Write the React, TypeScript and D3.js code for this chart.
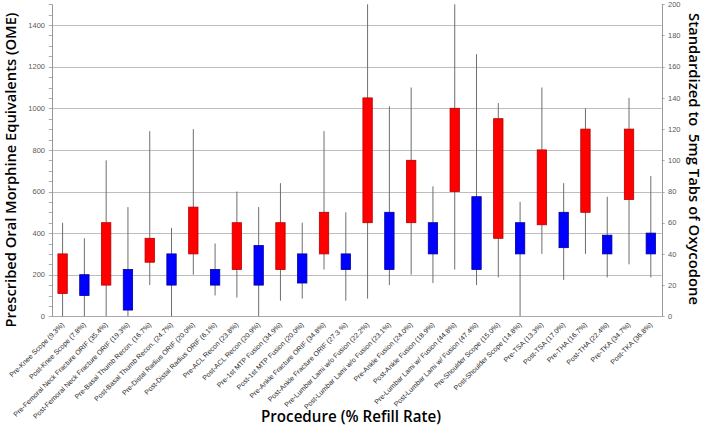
import React from "react";
import * as d3 from "d3";

const categories = [
  "Pre-Knee Scope (9.3%)",
  "Post-Knee Scope (7.8%)",
  "Pre-Femoral Neck Fracture ORIF (35.4%)",
  "Post-Femoral Neck Fracture ORIF (19.3%)",
  "Pre-Basal Thumb Recon. (16.7%)",
  "Post-Basal Thumb Recon. (24.7%)",
  "Pre-Distal Radius ORIF (20.0%)",
  "Post-Distal Radius ORIF (6.1%)",
  "Pre-ACL Recon (23.8%)",
  "Post-ACL Recon (20.9%)",
  "Pre-1st MTP Fusion (34.9%)",
  "Post-1st MTP Fusion (20.0%)",
  "Pre-Ankle Fracture ORIF (34.8%)",
  "Post-Ankle Fracture ORIF (27.3 %)",
  "Pre-Lumbar Lami w/o Fusion (22.2%)",
  "Post-Lumbar Lami w/o Fusion (23.1%)",
  "Pre-Ankle Fusion (24.0%)",
  "Post-Ankle Fusion (18.9%)",
  "Pre-Lumbar Lami w/ Fusion (44.8%)",
  "Post-Lumbar Lami w/ Fusion (47.4%)",
  "Pre-Shoulder Scope (15.0%)",
  "Post-Shoulder Scope (14.8%)",
  "Pre-TSA (13.3%)",
  "Post-TSA (17.0%)",
  "Pre-THA (16.7%)",
  "Post-THA (22.4%)",
  "Pre-TKA (34.7%)",
  "Post-TKA (36.8%)",
];

const low = [0, 0, 0, 0, 150, 0, 200, 100, 90, 0, 75, 85, 225, 75, 85, 150, 200, 160, 225, 150, 187, 0, 300, 175, 300, 187, 250, 187];
const q1 = [110, 100, 150, 30, 260, 150, 300, 150, 225, 150, 225, 160, 300, 225, 450, 225, 450, 300, 600, 225, 375, 300, 440, 330, 500, 300, 562, 300];
const q3 = [300, 200, 450, 225, 375, 300, 525, 225, 450, 340, 450, 300, 500, 300, 1050, 500, 750, 450, 1000, 575, 950, 450, 800, 500, 900, 390, 900, 400];
const high = [450, 375, 750, 525, 890, 425, 900, 350, 600, 525, 640, 450, 890, 500, 1500, 1010, 1100, 625, 1500, 1260, 1025, 550, 1100, 640, 1000, 575, 1050, 675];

const leftTicks = [0, 200, 400, 600, 800, 1000, 1200, 1400];
const rightTicks = [0, 20, 40, 60, 80, 100, 120, 140, 160, 180, 200];

const leftTitle = "Prescribed Oral Morphine Equivalents (OME)";
const rightTitle = "Standardized to  5mg Tabs of Oxycodone";
const bottomTitle = "Procedure (% Refill Rate)";

export default function App() {
  const W = 705;
  const H = 428;
  const x0 = 51.7;
  const x1 = 661.7;
  const yb = 316.3;
  const yt = 4.3;
  const x = d3.scalePoint<string>().domain(categories).range([x0, x1]).padding(0.5);
  const y = d3.scaleLinear().domain([0, 1500]).range([yb, yt]);
  const y2 = d3.scaleLinear().domain([0, 200]).range([yb, yt]);
  const step = x.step();
  const bw = step * 0.43;
  const minor = d3.range(0, 1501, 50);
  const crisp = (v: number) => Math.round(v) + 0.5;
  const tickFont = "'Liberation Sans', Arial, sans-serif";
  const titleFont = "'Open Sans', 'Noto Sans', sans-serif";

  return (
    <svg width={W} height={H} style={{ position: "absolute", left: 0, top: 0, background: "#fff" }}>
      <rect width={W} height={H} fill="#fff" />
      {/* gridlines */}
      {leftTicks.filter((t) => t > 0).map((t) => (
        <line key={"g" + t} x1={x0} x2={x1} y1={crisp(y(t))} y2={crisp(y(t))} stroke="#bdbdbd" strokeWidth={1} />
      ))}
      {/* axes */}
      <line x1={crisp(x0)} x2={crisp(x0)} y1={yt} y2={yb} stroke="#999" strokeWidth={1} />
      <line x1={crisp(x1)} x2={crisp(x1)} y1={yt} y2={yb} stroke="#999" strokeWidth={1} />
      <line x1={x0} x2={x1} y1={crisp(yb)} y2={crisp(yb)} stroke="#aaa" strokeWidth={1} />
      {minor.map((t) => (
        <line key={"m" + t} x1={x0 - 3} x2={x0 + 0.5} y1={crisp(y(t))} y2={crisp(y(t))} stroke="#999" strokeWidth={0.8} />
      ))}
      {rightTicks.map((t) => (
        <line key={"r" + t} x1={x1} x2={x1 + 3} y1={crisp(y2(t))} y2={crisp(y2(t))} stroke="#999" strokeWidth={0.8} />
      ))}
      {leftTicks.map((t) => (
        <text key={"lt" + t} x={45} y={y(t)} dy="0.35em" textAnchor="end" fontSize={7.5} fontFamily={tickFont} fill="#595959">
          {t}
        </text>
      ))}
      {rightTicks.map((t) => (
        <text key={"rt" + t} x={668} y={y2(t)} dy="0.35em" textAnchor="start" fontSize={7.5} fontFamily={tickFont} fill="#595959">
          {t}
        </text>
      ))}
      {/* boxes */}
      {categories.map((c, i) => {
        const cx = x(c) as number;
        const isPre = i % 2 === 0;
        return (
          <g key={c}>
            <line x1={cx} x2={cx} y1={y(low[i])} y2={y(high[i])} stroke="#6e6e6e" strokeWidth={1} />
            <rect
              x={cx - bw / 2}
              width={bw}
              y={y(q3[i])}
              height={y(q1[i]) - y(q3[i])}
              fill={isPre ? "#ff0000" : "#0000ff"}
              stroke={isPre ? "#b40000" : "#00009a"}
              strokeWidth={0.8}
            />
          </g>
        );
      })}
      {/* x labels */}
      {categories.map((c) => {
        const cx = x(c) as number;
        return (
          <text
            key={"xl" + c}
            transform={`translate(${cx + 2},${yb + 9}) rotate(-45)`}
            textAnchor="end"
            fontSize={7}
            fontFamily={tickFont}
            fill="#262626"
          >
            {c}
          </text>
        );
      })}
      {/* titles */}
      <text
        transform={`translate(15.5,170) rotate(-90)`}
        textAnchor="middle"
        fontSize={15}
        fontWeight={600}
        fontFamily={titleFont}
        fill="#000"
        textLength={315}
        lengthAdjust="spacingAndGlyphs"
      >
        {leftTitle}
      </text>
      <text
        transform={`translate(688.5,159) rotate(90)`}
        textAnchor="middle"
        fontSize={15}
        fontWeight={600}
        fontFamily={titleFont}
        fill="#000"
        textLength={292}
        lengthAdjust="spacingAndGlyphs"
        style={{ whiteSpace: "pre" }}
      >
        {rightTitle}
      </text>
      <text
        x={351}
        y={422}
        textAnchor="middle"
        fontSize={15.5}
        fontWeight={600}
        fontFamily={titleFont}
        fill="#000"
        textLength={180}
        lengthAdjust="spacingAndGlyphs"
      >
        {bottomTitle}
      </text>
    </svg>
  );
}
